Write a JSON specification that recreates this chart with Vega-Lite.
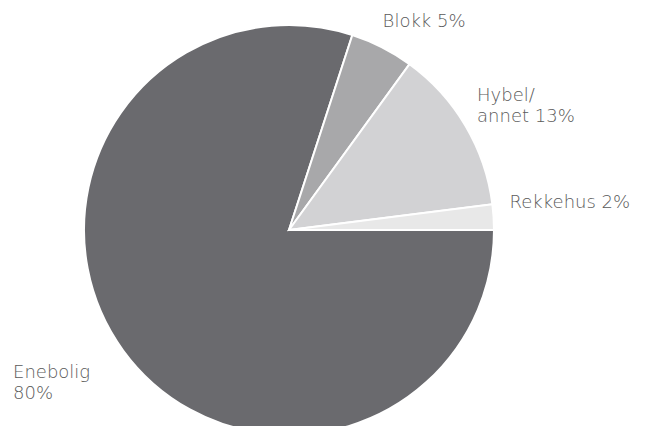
{
  "$schema": "https://vega.github.io/schema/vega-lite/v6.json",
  "autosize": {"type": "none"},
  "width": 410,
  "height": 410,
  "padding": {"left": 84, "top": 25, "right": 152, "bottom": 0},
  "background": "white",
  "view": {"stroke": null},
  "data": {
    "values": [
      {"category": "Enebolig", "value": 80, "rank": 1, "label": "Enebolig\n80%"},
      {"category": "Blokk", "value": 5, "rank": 2, "label": "Blokk 5%"},
      {"category": "Hybel/annet", "value": 13, "rank": 3, "label": "Hybel/\nannet 13%"},
      {"category": "Rekkehus", "value": 2, "rank": 4, "label": "Rekkehus 2%"}
    ]
  },
  "encoding": {
    "theta": {"field": "value", "type": "quantitative", "stack": true, "scale": {"range": [1.5708, 7.854]}},
    "order": {"field": "rank", "type": "quantitative"}
  },
  "layer": [
    {
      "mark": {"type": "arc", "radius": 205, "stroke": "white", "strokeWidth": 2},
      "encoding": {
        "color": {
          "field": "category",
          "type": "nominal",
          "scale": {
            "domain": ["Enebolig", "Blokk", "Hybel/annet", "Rekkehus"],
            "range": ["#6a6a6e", "#a8a8aa", "#d2d2d4", "#e8e8e8"]
          },
          "legend": null
        }
      }
    },
    {
      "mark": {
        "type": "text",
        "radius": 215,
        "align": "left",
        "baseline": "middle",
        "font": "DejaVu Sans",
        "fontSize": 18,
        "fontWeight": 200,
        "lineHeight": 21,
        "lineBreak": "\n",
        "color": "#5a5a5a",
        "dx": {"expr": "datum.category === 'Blokk' ? -4 : datum.category === 'Hybel/annet' ? 3 : datum.category === 'Rekkehus' ? 6 : -102"},
        "dy": {"expr": "datum.category === 'Blokk' ? -16 : datum.category === 'Hybel/annet' ? -25 : datum.category === 'Rekkehus' ? -14 : 17"}
      },
      "encoding": {
        "text": {"field": "label", "type": "nominal"}
      }
    }
  ]
}
